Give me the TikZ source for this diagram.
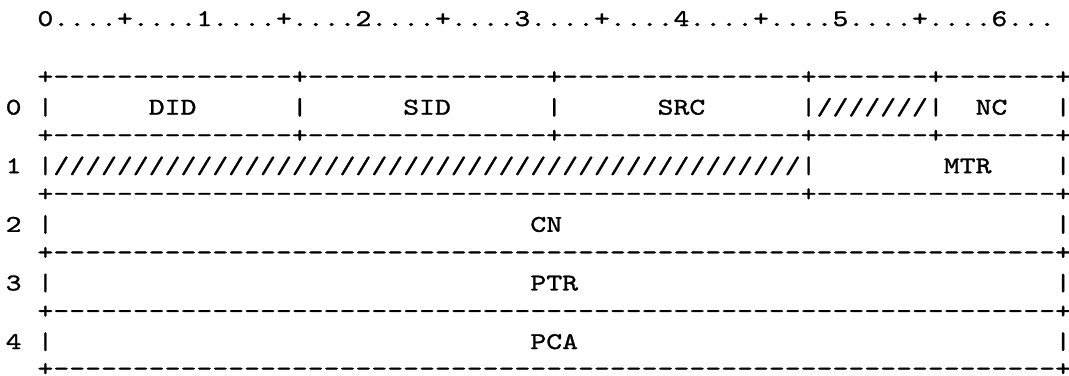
\documentclass[tikz,border=0pt]{standalone}
\usepackage{fontspec}
\newfontfamily\asciifont{lmmono10-regular.otf}[FakeStretch=1.262, FakeBold=1.2, Ligatures=TeXOff]
\newcommand\repchar[2]{\foreach \cnt in {1,...,#1}{#2}}
\tikzset{
	asciiline/.style={anchor=base west, inner sep=0pt, font={\fontsize{12pt}{14pt}\asciifont}},
}
\begin{document}
\begin{tikzpicture}[x=0.5pt, y=-0.5pt]
	\useasboundingbox (0,0) rectangle (1069,375);
	% Bit ruler
	\node [asciiline] (ruler) at (5.25,26) {\repchar{2}{\ }0....+....1....+....2....+....3....+....4....+....5....+....6...};
	% Header words
	\node [asciiline] (top) at (5.25,84) {\repchar{2}{\ }+\repchar{15}{-}+\repchar{15}{-}+\repchar{15}{-}+\repchar{7}{-}+\repchar{7}{-}+};
	\node [asciiline] (word0) at (5.25,114.6) {0\ |\repchar{6}{\ }DID\repchar{6}{\ }|\repchar{6}{\ }SID\repchar{6}{\ }|\repchar{6}{\ }SRC\repchar{6}{\ }|///////|\ \ NC\ \ \ |};
	\node [asciiline] (sep0) at (5.25,142.6) {\repchar{2}{\ }+\repchar{15}{-}+\repchar{15}{-}+\repchar{15}{-}+\repchar{7}{-}+\repchar{7}{-}+};
	\node [asciiline] (word1) at (5.25,173.2) {1\ |\repchar{47}{/}|\repchar{8}{\ }MTR\repchar{4}{\ }|};
	\node [asciiline] (sep1) at (5.25,201.2) {\repchar{2}{\ }+\repchar{47}{-}+\repchar{15}{-}+};
	% Full width words
	\node [asciiline] (word2) at (5.25,231.8) {2\ |\repchar{30}{\ }CN\repchar{31}{\ }|};
	\node [asciiline] (sep2) at (5.25,259.8) {\repchar{2}{\ }+\repchar{63}{-}+};
	\node [asciiline] (word3) at (5.25,290.4) {3\ |\repchar{30}{\ }PTR\repchar{30}{\ }|};
	\node [asciiline] (sep3) at (5.25,318.4) {\repchar{2}{\ }+\repchar{63}{-}+};
	\node [asciiline] (word4) at (5.25,349) {4\ |\repchar{30}{\ }PCA\repchar{30}{\ }|};
	\node [asciiline] (bottom) at (5.25,376) {\repchar{2}{\ }+\repchar{63}{-}+};
\end{tikzpicture}
\end{document}
